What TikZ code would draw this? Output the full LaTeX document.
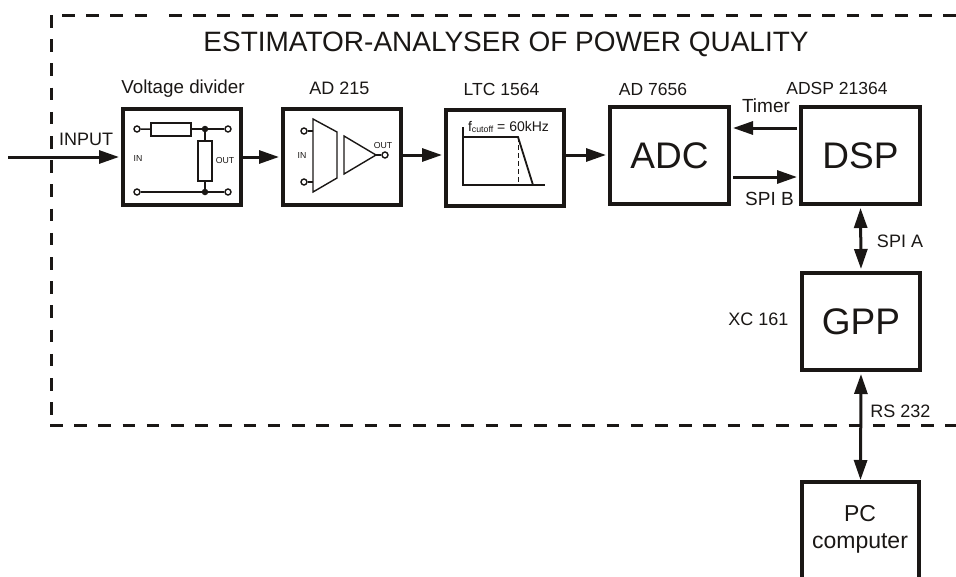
\documentclass[tikz,border=0pt]{standalone}
\usepackage{fontspec}
\setmainfont{Liberation Sans}
\usetikzlibrary{arrows.meta}
\definecolor{ink}{HTML}{1A1715}
\tikzset{
  block/.style={draw=ink, line width=4pt, minimum width=118pt, minimum height=96pt, inner sep=0pt},
  conn/.style={draw=ink, line width=3pt, -{Triangle[length=20pt,width=13pt]}, shorten >=2pt},
  biconn/.style={draw=ink, line width=3pt, {Triangle[length=20pt,width=13pt]}-{Triangle[length=20pt,width=13pt]}, shorten >=2pt, shorten <=2pt},
  frame/.style={draw=ink, line width=3pt, dash pattern=on 12.5pt off 11.7pt},
  wire/.style={draw=ink, line width=1.4pt},
  term/.style={draw=ink, fill=white, line width=1.4pt, circle, minimum size=6pt, inner sep=0pt},
  junction/.style={fill=ink, circle, minimum size=6.5pt, inner sep=0pt},
  txt/.style={text=ink, inner sep=0pt, font=\fontsize{18}{20}\selectfont},
  tiny/.style={text=ink, inner sep=0pt, font=\fontsize{8.7}{10}\selectfont},
  big/.style={text=ink, inner sep=0pt, font=\fontsize{37}{40}\selectfont}
}

\begin{document}
\begin{tikzpicture}[x=1pt, y=-1pt]
\useasboundingbox (0,0) rectangle (956,576);

\draw[frame] (51.5,15) -- (51.5,418);
\draw[frame] (62,15) -- (147,15);
\draw[frame] (169,15) -- (956,15);
\draw[frame] (50,425.5) -- (956,425.5);

\node[txt, font=\fontsize{28}{30}\selectfont] (title) at (506,44) {ESTIMATOR-ANALYSER OF POWER QUALITY};

\node[block] (divider) at (182,157) {};
\node[block] (amp) at (342,157) {};
\node[block] (filter) at (505,158) {};
\node[block, minimum width=119pt, minimum height=97pt, big] (adc) at (669.5,155.5) {ADC};
\node[block, minimum width=119pt, minimum height=97pt, big] (dsp) at (860.5,155.5) {DSP};
\node[block, minimum width=118pt, minimum height=97pt, big] (gpp) at (861,321.5) {GPP};
\node[block, minimum width=117pt, minimum height=120pt] (pc) at (860.5,542) {};
\node[txt, font=\fontsize{23}{27}\selectfont, align=center] (pctext) at (860,529.5) {PC\\computer};

\node[txt, font=\fontsize{18.8}{20}\selectfont] (dividername) at (183,88.5) {Voltage divider};
\node[txt] (ampname) at (339.5,88) {AD 215};
\node[txt, font=\fontsize{17.5}{20}\selectfont] (filtername) at (501.5,89) {LTC 1564};
\node[txt, font=\fontsize{17.5}{20}\selectfont] (adcname) at (653,89) {AD 7656};
\node[txt, font=\fontsize{17.5}{20}\selectfont] (dspname) at (837,88) {ADSP 21364};
\node[txt] (gppname) at (758.5,319) {XC 161};

\coordinate (input) at (8,157);
\coordinate (timerout) at (797,128);
\coordinate (timerin) at (731,128);
\coordinate (spibout) at (733,177);
\coordinate (spibin) at (799,177);
\path[conn] (input) -- (divider.west);
\path[conn] (divider.east) -- (amp.west);
\path[conn] ([yshift=2pt]amp.east) -- ([yshift=2pt]amp.east -| filter.west);
\path[conn] ([yshift=3pt]filter.east) -- ([yshift=3pt]filter.east -| adc.west);
\path[conn] (timerout) -- (timerin);
\path[conn] (spibout) -- (spibin);
\path[biconn] (dsp.south) -- (gpp.north);
\path[biconn, shorten >=0pt] (gpp.south) -- (pc.north);

\node[txt] (inputname) at (86,139) {INPUT};
\node[txt, font=\fontsize{19}{20}\selectfont] (timername) at (766,106) {Timer};
\node[txt, font=\fontsize{19}{20}\selectfont] (spibname) at (769.5,199) {SPI B};
\node[txt] (spianame) at (900,241) {SPI A};
\node[txt] (rsname) at (900.5,411) {RS 232};

% voltage divider
\node[term] (t1) at (137,129) {};
\node[term] (t2) at (228,129) {};
\node[term] (t3) at (137,192) {};
\node[term] (t4) at (228,192) {};
\node[junction] (j1) at (205,129) {};
\node[junction] (j2) at (205,192) {};
\node[draw=ink, line width=1.4pt, minimum width=40pt, minimum height=13pt, inner sep=0pt] (r1) at (171,129.5) {};
\node[draw=ink, line width=1.4pt, minimum width=14pt, minimum height=40pt, inner sep=0pt] (r2) at (205,161) {};
\draw[wire] (t1) -- (r1);
\draw[wire] (r1.east |- t2) -- (t2);
\draw[wire] (j1) -- (r2);
\draw[wire] (r2) -- (j2);
\draw[wire] (t3) -- (t4);
\node[tiny] (divin) at (138,159) {IN};
\node[tiny] (divout) at (225,161) {OUT};

% amplifier
\draw[wire, line join=miter] (313,119) -- (337,132) -- (337,178) -- (313,192) -- cycle;
\draw[wire, line join=miter] (344,136) -- (376,155) -- (344,174) -- cycle;
\node[term] (t5) at (304,131) {};
\node[term] (t6) at (304,182) {};
\node[term] (t7) at (385,155) {};
\draw[wire] (t5) -- (313,131);
\draw[wire] (t6) -- (313,182);
\draw[wire] (376,155) -- (t7);
\node[tiny] (ampin) at (302,156) {IN};
\node[tiny] (ampout) at (383,146) {OUT};

% filter
\draw[wire] (463,127) -- (463,185) -- (545,185);
\draw[draw=ink, line width=1.8pt] (463,137) -- (518,137) -- (533,185);
\draw[draw=ink, line width=0.9pt, dash pattern=on 5pt off 3pt] (518,137) -- (518,185);
\node[txt, font=\fontsize{14}{18}\selectfont] (cutoff) at (508.5,127) {f\raisebox{-1.5pt}{\fontsize{8.8}{12}\selectfont cutoff} = 60kHz};

\end{tikzpicture}
\end{document}
